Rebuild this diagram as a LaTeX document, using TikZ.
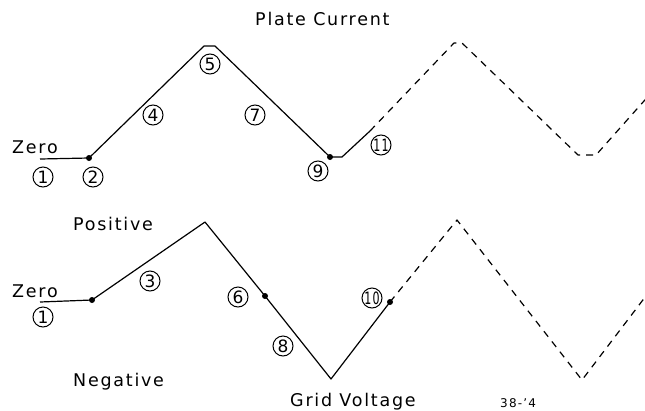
\documentclass[tikz,border=0pt]{standalone}
\usepackage{fontspec}
\setmainfont{DejaVu Sans}[LetterSpace=10]
\usetikzlibrary{positioning}
\tikzset{
  num/.style={draw,circle,line width=1pt,minimum size=20pt,inner sep=0pt,font=\fontsize{17}{17}\selectfont},
  wave/.style={line width=1.2pt,line join=round},
  guess/.style={wave,dash pattern=on 7pt off 6pt},
  pin/.style={circle,fill,inner sep=0pt,minimum size=6pt},
  lbl/.style={anchor=base west,inner sep=0pt,font=\fontsize{17.5}{17.5}\selectfont}
}

\begin{document}
\begin{tikzpicture}[x=1pt,y=-1pt]
\useasboundingbox (0,0) rectangle (645,410);

% plate current
\coordinate (p0) at (40,159);
\node[pin] (p2) at (89,158) {};
\coordinate (p5a) at (204,46);
\coordinate (p5b) at (215,46);
\node[pin] (p9) at (330,157) {};
\coordinate (p9b) at (342,157);
\coordinate (p11) at (370,131);
\coordinate (ptop) at (454,43);
\coordinate (ptopb) at (462,43);
\coordinate (pbot) at (578,155);
\coordinate (pbotb) at (596,155);
\coordinate (pend) at (652,92);
\draw[wave] (p0) -- (p2.center) -- (p5a) -- (p5b) -- (p9.center) -- (p9b) -- (p11);
\draw[guess] (p11) -- (ptop) -- (ptopb) -- (pbot) -- (pbotb) -- (pend);

% grid voltage
\coordinate (g0) at (40,302);
\node[pin] (g1) at (92,300) {};
\coordinate (gtop) at (205,222);
\node[pin] (g6) at (265,296) {};
\coordinate (gbot) at (331,379);
\node[pin] (g10) at (390,302) {};
\coordinate (gtop2) at (457,220);
\coordinate (gbot2) at (582,380);
\coordinate (gend) at (652,288);
\draw[wave] (g0) -- (g1.center) -- (gtop) -- (g6.center) -- (gbot) -- (g10.center);
\draw[guess] (g10.center) -- (gtop2) -- (gbot2) -- (gend);

% labels
\node[lbl] (plate) at (255,25) {Plate Current};
\node[lbl] (zeroa) at (12,153) {Zero};
\node[lbl] (zerob) at (12,297) {Zero};
\node[lbl] (pos) at (73,230) {Positive};
\node[lbl] (neg) at (73,386) {Negative};
\node[lbl] (grid) at (290,406) {Grid Voltage};
\node[lbl,font=\fontsize{12}{12}\selectfont] (fig) at (500,407) {38-'4};

% step numbers
\node[num] (n1a) at (43,177) {1};
\node[num] (n2) at (93,177) {2};
\node[num] (n4) at (153,115) {4};
\node[num] (n5) at (210,64) {5};
\node[num] (n7) at (255,115) {7};
\node[num] (n9) at (318,171) {9};
\node[num] (n11) at (381,145) {\scalebox{0.65}[1]{11}};
\node[num] (n1b) at (43,317) {1};
\node[num] (n3) at (150,281) {3};
\node[num] (n6) at (238,297) {6};
\node[num] (n8) at (283,346) {8};
\node[num] (n10) at (372,298) {\scalebox{0.65}[1]{10}};
\end{tikzpicture}
\end{document}
